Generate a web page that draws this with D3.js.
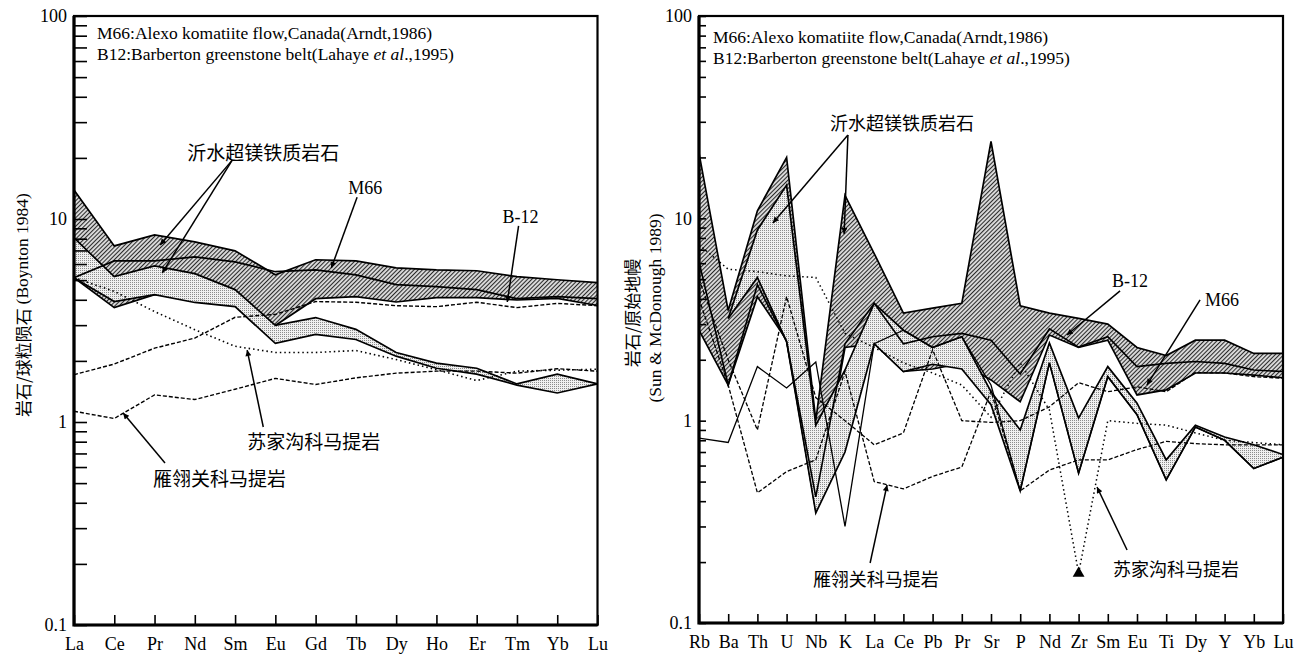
<!DOCTYPE html>
<html>
<head>
<meta charset="utf-8">
<script src="https://cdn.jsdelivr.net/npm/d3@7"></script>
<style>
body { margin: 0; background: #fff; }
svg { display: block; }
.serif { font-family: "Liberation Serif", "Times New Roman", serif; }
.cjk { font-family: "Noto Sans CJK SC", sans-serif; }
</style>
</head>
<body>
<svg width="1303" height="657"></svg>
<script>
/* chondrite-normalised REE (left panel) */
var reeElements = ["La", "Ce", "Pr", "Nd", "Sm", "Eu", "Gd", "Tb", "Dy", "Ho", "Er", "Tm", "Yb", "Lu"];
var yishuiUpperTop = [13.9, 7.37, 8.35, 7.72, 6.97, 5.31, 6.30, 6.22, 5.75, 5.62, 5.56, 5.20, 5.02, 4.86];
var yishuiUpperBase = [5.14, 3.66, 4.24, 4.24, 3.92, 2.99, 4.05, 4.15, 3.90, 4.10, 4.10, 3.99, 4.06, 3.75];
var yishuiLowerTop = [8.07, 5.20, 5.88, 5.38, 4.49, 2.99, 3.27, 2.86, 2.20, 1.95, 1.84, 1.54, 1.72, 1.54];
var yishuiLowerBase = [5.14, 3.92, 4.24, 3.88, 3.70, 2.44, 2.70, 2.55, 2.11, 1.84, 1.72, 1.52, 1.39, 1.54];
var m66Ree = [5.14, 6.22, 6.22, 6.51, 6.15, 5.50, 5.62, 5.31, 4.75, 4.64, 4.49, 4.05, 4.15, 4.05];
var sujiagouRee = [5.14, 4.40, 3.50, 2.85, 2.36, 2.20, 2.20, 2.25, 2.03, 1.81, 1.60, 1.78, 1.80, 1.82];
var yanlingguanReeA = [1.71, 1.93, 2.31, 2.59, 3.28, 3.39, 3.92, 3.89, 3.74, 3.70, 3.89, 3.66, 3.84, 3.74];
var yanlingguanReeB = [1.13, 1.04, 1.36, 1.29, 1.45, 1.64, 1.53, 1.65, 1.74, 1.78, 1.78, 1.74, 1.83, 1.78];

/* primitive-mantle-normalised spidergram (right panel) */
var spiderElements = ["Rb", "Ba", "Th", "U", "Nb", "K", "La", "Ce", "Pb", "Pr", "Sr", "P", "Nd", "Zr", "Sm", "Eu", "Ti", "Dy", "Y", "Yb", "Lu"];
var yishuiEnvTop = [21, 3.5, 10.9, 20, 1.0, 13, 6.7, 3.4, 3.6, 3.8, 24, 3.7, 3.4, 3.2, 3.0, 2.3, 2.1, 2.5, 2.5, 2.15, 2.15];
var yishuiEnvBase = [2.8, 1.5, 4.1, 2.5, 0.36, 2.3, 2.4, 1.75, 1.8, 1.92, 1.59, 1.24, 2.65, 2.3, 2.5, 1.34, 1.42, 1.72, 1.72, 1.68, 1.63];
var yishuiBandTop = [null, 3.2, 8.76, 14.6, 0.95, 1.78, 3.8, 2.8, 2.3, 2.6, 1.39, 0.90, 2.42, 1.03, 1.85, 1.22, 0.64, 0.95, 0.83, 0.76, 0.68];
var yishuiBandBase = [null, 3.2, 5.1, 2.46, 0.35, 0.70, 2.4, 1.75, 1.9, 1.8, 1.2, 0.45, 1.93, 0.55, 1.65, 1.07, 0.51, 0.93, 0.80, 0.58, 0.66];
var b12Spider = [6.1, 1.5, 4.7, 2.46, 0.42, 2.4, 3.8, 2.4, 2.6, 2.7, 2.5, 1.7, 2.84, 2.31, 2.6, 1.85, 1.92, 1.96, 1.92, 1.78, 1.75];
var thinSpider = [0.82, 0.78, 1.85, 1.45, 1.95, 0.30, 2.4, 2.8, 2.3, 2.6, 1.5, 0.45, 1.93, 0.55, 1.65, 1.07, 0.51, 0.93, 0.80, 0.58, 0.66];
var sujiagouSpider = [7.4, 5.6, 5.45, 5.2, 5.1, 2.7, 2.3, 1.93, 1.72, 1.50, 1.04, 1.93, 1.13, 0.176, 1.0, 0.97, 0.95, 0.87, 0.80, 0.78, 0.76];
var yanlingguanSpiderA = [4.0, 1.5, 0.44, 0.56, 0.64, 1.75, 0.50, 0.46, 0.53, 0.59, 1.40, 0.45, 0.57, 0.64, 0.64, 0.72, 0.79, 0.77, 0.76, 0.76, 0.76];
var yanlingguanSpiderB = [5.0, 2.0, 0.90, 4.1, 1.3, 1.0, 0.76, 0.87, 2.24, 1.0, 0.98, 1.0, 1.17, 1.54, 1.39, 1.47, 1.39, 1.73, 1.72, 1.65, 1.62];

/* labels and arrows, given as [element index, value] */
var leftLabels = [
    { text: "沂水超镁铁质岩石", i: 2.81, v: 21.4, cjk: true },
    { text: "M66", i: 7.23, v: 14.2, mid: true },
    { text: "B-12", i: 11.09, v: 10.2, mid: true },
    { text: "苏家沟科马提岩", i: 4.30, v: 0.815, cjk: true },
    { text: "雁翎关科马提岩", i: 1.96, v: 0.53, cjk: true }
];
var leftArrows = [
    [[3.93, 19.5], [2.14, 7.45]], [[3.93, 19.5], [2.19, 5.42]],
    [[7.03, 12.8], [6.39, 5.74]], [[11.04, 9.24], [10.76, 3.90]],
    [[4.70, 0.945], [4.30, 2.26]], [[2.26, 0.628], [1.22, 1.107]]
];
var rightLabels = [
    { text: "沂水超镁铁质岩石", i: 4.49, v: 29.97, cjk: true },
    { text: "B-12", i: 14.76, v: 4.91, mid: true },
    { text: "M66", i: 17.91, v: 3.95, mid: true },
    { text: "雁翎关科马提岩", i: 3.90, v: 0.167, cjk: true },
    { text: "苏家沟科马提岩", i: 14.18, v: 0.187, cjk: true }
];
var rightArrows = [
    [[5.10, 25.8], [2.53, 9.49]], [[5.10, 25.8], [4.97, 8.37]],
    [[14.42, 4.38], [12.60, 2.65]], [[17.16, 3.95], [15.34, 1.50]],
    [[5.86, 0.198], [6.44, 0.481]], [[14.66, 0.2296], [13.63, 0.470]]
];

var svg = d3.select("svg");
var defs = svg.append("defs");

var hatch = defs.append("pattern").attr("id", "hatch")
    .attr("width", 3).attr("height", 3)
    .attr("patternUnits", "userSpaceOnUse")
    .attr("patternTransform", "rotate(45)");
hatch.append("rect").attr("width", 3).attr("height", 3).attr("fill", "#dcdcdc");
hatch.append("line").attr("x1", 0.5).attr("y1", 0).attr("x2", 0.5).attr("y2", 3)
    .attr("stroke", "#2a2a2a").attr("stroke-width", 1.1);

var dots = defs.append("pattern").attr("id", "dots")
    .attr("width", 2).attr("height", 2)
    .attr("patternUnits", "userSpaceOnUse");
dots.append("rect").attr("width", 2).attr("height", 2).attr("fill", "#f0f0f0");
dots.append("rect").attr("width", 1).attr("height", 1).attr("fill", "#8c8c8c");

defs.append("marker").attr("id", "head")
    .attr("viewBox", "0 0 10 10").attr("refX", 10).attr("refY", 5)
    .attr("markerWidth", 9).attr("markerHeight", 6)
    .attr("markerUnits", "userSpaceOnUse").attr("orient", "auto")
    .append("path").attr("d", "M0,0L10,5L0,10z").attr("fill", "#000");

function drawPanel(p) {
    var x = d3.scalePoint().domain(p.elements).range([p.left, p.right]);
    var y = d3.scaleLog().domain([0.1, 100]).range([p.bottom, p.top]);
    var step = x.step();
    function xi(i) { return p.left + i * step; }

    var g = svg.append("g");
    defs.append("clipPath").attr("id", p.id + "-clip")
        .append("rect").attr("x", p.left).attr("y", p.top)
        .attr("width", p.right - p.left).attr("height", p.bottom - p.top);
    var plot = g.append("g").attr("clip-path", "url(#" + p.id + "-clip)");

    var line = d3.line()
        .defined(function (d) { return d != null; })
        .x(function (d, i) { return x(p.elements[i]); })
        .y(function (d) { return y(d); });

    // shaded fields, filled first then outlined
    p.fields.forEach(function (f) {
        var rows = p.elements.map(function (e, i) { return { e: e, top: f.top[i], base: f.base[i] }; });
        var area = d3.area()
            .defined(function (d) { return d.top != null; })
            .x(function (d) { return x(d.e); })
            .y0(function (d) { return y(d.base); })
            .y1(function (d) { return y(d.top); });
        plot.append("path").datum(rows).attr("d", area).attr("fill", "url(#" + f.fill + ")");
        [f.top, f.base].forEach(function (s) {
            plot.append("path").datum(s).attr("d", line)
                .attr("fill", "none").attr("stroke", "#000").attr("stroke-width", 1.7)
                .attr("stroke-linejoin", "miter");
        });
    });

    p.lines.forEach(function (l) {
        plot.append("path").datum(l.values).attr("d", line)
            .attr("fill", "none").attr("stroke", "#000")
            .attr("stroke-width", l.width)
            .attr("stroke-dasharray", l.dash || null);
    });

    if (p.marker) {
        g.append("path")
            .attr("d", d3.symbol(d3.symbolTriangle, 60)())
            .attr("transform", "translate(" + x(p.elements[p.marker.index]) + "," + y(p.marker.values[p.marker.index]) + ")")
            .attr("fill", "#000");
    }

    // axes: minor ticks pointing inward, labels outside
    var minor = [];
    [0.1, 1, 10].forEach(function (dec) {
        for (var k = 1; k < 10; k++) minor.push(dec * k);
    });
    minor.push(100);
    g.append("g").attr("transform", "translate(" + p.left + ",0)")
        .call(d3.axisRight(y).tickValues(minor).tickSize(p.yTick).tickSizeOuter(0).tickFormat(""))
        .call(function (a) { a.select(".domain").remove(); a.selectAll("line").attr("stroke-width", 1.6); });
    g.append("g").attr("transform", "translate(" + p.left + ",0)")
        .call(d3.axisLeft(y).tickValues([0.1, 1, 10, 100]).tickSize(0).tickPadding(7)
            .tickFormat(function (d) { return d3.format("~g")(d); }))
        .call(function (a) {
            a.select(".domain").remove();
            a.selectAll("text").attr("class", "serif").attr("font-size", 18).attr("fill", "#000");
        });
    g.append("g").attr("transform", "translate(0," + p.bottom + ")")
        .call(d3.axisTop(x).tickSize(p.xTick).tickSizeOuter(0).tickFormat(""))
        .call(function (a) { a.select(".domain").remove(); a.selectAll("line").attr("stroke-width", 1.6); });
    g.append("g").attr("transform", "translate(0," + p.bottom + ")")
        .call(d3.axisBottom(x).tickSize(0).tickPadding(12))
        .call(function (a) {
            a.select(".domain").remove();
            a.selectAll("text").attr("class", "serif").attr("font-size", 18).attr("fill", "#000");
        });

    g.append("rect").attr("x", p.left).attr("y", p.top)
        .attr("width", p.right - p.left).attr("height", p.bottom - p.top)
        .attr("fill", "none").attr("stroke", "#000").attr("stroke-width", 2.2);
    g.append("path")
        .attr("d", "M" + p.left + "," + p.top + "V" + p.bottom + "H" + p.right)
        .attr("fill", "none").attr("stroke", "#000").attr("stroke-width", 3.2);

    // source notes
    var n1 = g.append("text").attr("class", "serif").attr("font-size", 17.5)
        .attr("x", p.noteX).attr("y", p.noteY);
    n1.text("M66:Alexo komatiite flow,Canada(Arndt,1986)");
    var n2 = g.append("text").attr("class", "serif").attr("font-size", 17.5)
        .attr("x", p.noteX).attr("y", p.noteY + 21);
    n2.append("tspan").text("B12:Barberton greenstone belt(Lahaye ");
    n2.append("tspan").attr("font-style", "italic").text("et al");
    n2.append("tspan").text(".,1995)");

    // y axis title
    p.yTitle.forEach(function (t) {
        var tt = g.append("text")
            .attr("transform", "translate(" + t.x + "," + t.y + ") rotate(-90)")
            .attr("text-anchor", "middle").attr("dominant-baseline", "central");
        t.parts.forEach(function (part) {
            tt.append("tspan").attr("class", part.cjk ? "cjk" : "serif")
                .attr("font-size", part.cjk ? 17 : 17.5).text(part.text);
        });
    });

    // labels and arrows
    p.labels.forEach(function (l) {
        g.append("text").attr("class", l.cjk ? "cjk" : "serif")
            .attr("font-size", l.cjk ? p.cjkSize : 18)
            .attr("x", xi(l.i)).attr("y", y(l.v))
            .attr("text-anchor", l.mid ? "middle" : "start")
            .attr("dominant-baseline", "central")
            .text(l.text);
    });
    p.arrows.forEach(function (a) {
        g.append("line")
            .attr("x1", xi(a[0][0])).attr("y1", y(a[0][1]))
            .attr("x2", xi(a[1][0])).attr("y2", y(a[1][1]))
            .attr("stroke", "#000").attr("stroke-width", 1.5)
            .attr("marker-end", "url(#head)");
    });
}

drawPanel({
    id: "ree", elements: reeElements,
    left: 74, right: 597.5, top: 16, bottom: 625,
    yTick: 13, xTick: 10, cjkSize: 19,
    noteX: 97, noteY: 38.5,
    fields: [
        { top: yishuiUpperTop, base: yishuiUpperBase, fill: "hatch" },
        { top: yishuiLowerTop, base: yishuiLowerBase, fill: "dots" }
    ],
    lines: [
        { values: m66Ree, width: 1.7 },
        { values: sujiagouRee, width: 1.6, dash: "1.5,3" },
        { values: yanlingguanReeA, width: 1.4, dash: "4,2" },
        { values: yanlingguanReeB, width: 1.4, dash: "4,2" }
    ],
    yTitle: [{ x: 22, y: 305, parts: [{ text: "岩石/球粒陨石 ", cjk: true }, { text: "(Boynton 1984)" }] }],
    labels: leftLabels, arrows: leftArrows
});

drawPanel({
    id: "pm", elements: spiderElements,
    left: 699, right: 1283, top: 16, bottom: 623,
    yTick: 7, xTick: 9, cjkSize: 18,
    noteX: 713, noteY: 43,
    fields: [
        { top: yishuiEnvTop, base: yishuiEnvBase, fill: "hatch" },
        { top: yishuiBandTop, base: yishuiBandBase, fill: "dots" }
    ],
    lines: [
        { values: b12Spider, width: 1.6 },
        { values: thinSpider, width: 1.3 },
        { values: sujiagouSpider, width: 1.5, dash: "1.5,3" },
        { values: yanlingguanSpiderA, width: 1.3, dash: "4,2" },
        { values: yanlingguanSpiderB, width: 1.3, dash: "4,2" }
    ],
    marker: { values: sujiagouSpider, index: 13 },
    yTitle: [
        { x: 631, y: 313, parts: [{ text: "岩石/原始地幔", cjk: true }] },
        { x: 655, y: 308, parts: [{ text: "(Sun & McDonough 1989)" }] }
    ],
    labels: rightLabels, arrows: rightArrows
});
</script>
</body>
</html>
